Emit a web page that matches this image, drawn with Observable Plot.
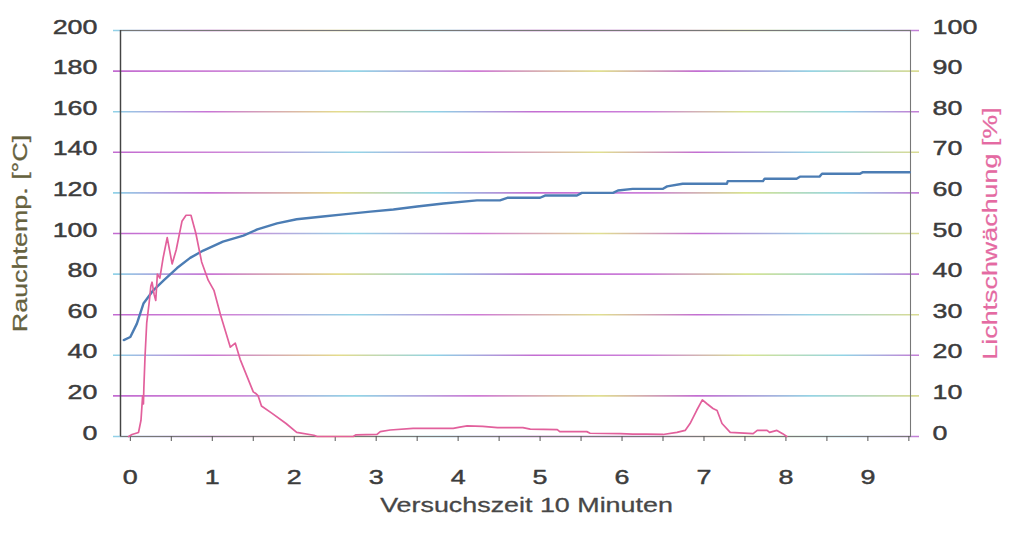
<!DOCTYPE html>
<html>
<head>
<meta charset="utf-8">
<script src="https://cdn.jsdelivr.net/npm/d3@7"></script>
<script src="https://cdn.jsdelivr.net/npm/@observablehq/plot@0.6"></script>
<style>
  html, body { margin: 0; padding: 0; background: #fff; }
</style>
</head>
<body>
<div id="chart"></div>
<script>
// Rauchtemp. [°C] (left axis)
const timeT = [-0.08, 0, 0.08, 0.16, 0.28, 0.41, 0.57, 0.73, 0.89, 1.13, 1.38, 1.55, 1.79, 2.03, 2.35, 2.6, 2.93, 3.21, 3.5, 3.82, 4.23, 4.51, 4.6, 5.0, 5.06, 5.45, 5.51, 5.89, 5.95, 6.13, 6.5, 6.55, 6.74, 7.28, 7.29, 7.72, 7.74, 8.13, 8.17, 8.41, 8.44, 8.9, 8.94, 9.51];
const temp  = [47.5, 49, 55.6, 65.5, 72, 77, 83, 88, 91.6, 96, 99, 102, 105, 107, 108.4, 109.4, 110.8, 111.8, 113.3, 114.8, 116.3, 116.3, 117.6, 117.6, 118.7, 118.7, 120, 120, 121.2, 122, 122, 123.2, 124.5, 124.5, 125.8, 125.8, 127, 127, 128, 128, 129.4, 129.4, 130.2, 130.2];

// Lichtschwächung [%] (right axis)
const timeL = [-0.02, 0.02, 0.10, 0.13, 0.15, 0.16, 0.165, 0.18, 0.20, 0.23, 0.25, 0.265, 0.29, 0.31, 0.33, 0.36, 0.40, 0.45, 0.51, 0.56, 0.63, 0.68, 0.74, 0.80, 0.87, 0.95, 1.02, 1.10, 1.22, 1.28, 1.34, 1.50, 1.53, 1.56, 1.60, 1.73, 1.90, 2.03, 2.24, 2.28, 2.72, 2.75, 3.01, 3.05, 3.17, 3.45, 3.94, 4.02, 4.11, 4.30, 4.48, 4.79, 4.88, 5.21, 5.24, 5.57, 5.61, 5.98, 6.13, 6.30, 6.50, 6.67, 6.77, 6.83, 6.91, 6.98, 7.04, 7.11, 7.16, 7.22, 7.32, 7.60, 7.65, 7.77, 7.80, 7.89, 7.96, 8.01];
const light = [0, 0.5, 1, 4, 10, 8, 12, 20, 28, 33, 37, 38, 35, 33.5, 40, 39, 44, 49, 42.5, 46, 53, 54.5, 54.5, 50, 43, 38.5, 36, 30, 22, 23, 19, 11, 10.6, 10, 7.5, 5.7, 3.2, 1, 0.3, 0, 0, 0.4, 0.5, 1.2, 1.6, 2, 2, 2.3, 2.6, 2.5, 2.2, 2.2, 1.8, 1.7, 1.2, 1.2, 0.8, 0.7, 0.6, 0.6, 0.5, 1, 1.5, 3.2, 6.4, 9, 8, 6.9, 6.4, 3.2, 1, 0.7, 1.5, 1.5, 1, 1.5, 0.7, 0];

const leftTicks = [0, 20, 40, 60, 80, 100, 120, 140, 160, 180, 200];
const rightTicks = [0, 10, 20, 30, 40, 50, 60, 70, 80, 90, 100];
const xLabels = [0, 1, 2, 3, 4, 5, 6, 7, 8, 9];
const xMinorTicks = [0, 0.5, 1, 1.5, 2, 2.5, 3, 3.5, 4, 4.5, 5, 5.5, 6, 6.5, 7, 7.5, 8, 8.5, 9, 9.5];

const xTitle = "Versuchszeit 10 Minuten";
const leftTitle = "Rauchtemp. [°C]";
const rightTitle = "Lichtschwächung [%]";

const tempData = timeT.map((t, i) => ({t, v: temp[i]}));
const lightData = timeL.map((t, i) => ({t, v: light[i]}));
const ratio = 200 / 100; // right axis 0–100 maps onto left axis 0–200

const gridA = leftTicks.filter((d, i) => i % 2 === 0);
const gridB = leftTicks.filter((d, i) => i % 2 === 1);

const tickFill = "#3c3c3c";
const fs = 21;
const bold = {stroke: tickFill, strokeWidth: 0.45};

const svg = Plot.plot({
  width: 1012,
  height: 537,
  marginLeft: 120,
  marginRight: 102,
  marginTop: 30,
  marginBottom: 101,
  x: {domain: [-0.12, 9.52]},
  y: {domain: [0, 200]},
  style: {fontFamily: "'Liberation Sans', Arial, sans-serif", fontSize: "21px", background: "#fff"},
  marks: [
    Plot.ruleY(gridA, {stroke: "url(#gridGradA)", strokeWidth: 1.6, insetLeft: -7, insetRight: -9}),
    Plot.ruleY(gridB, {stroke: "url(#gridGradB)", strokeWidth: 1.6, insetLeft: -7, insetRight: -9}),
    Plot.frame({stroke: "#777", strokeWidth: 1.1}),
    Plot.axisX({ticks: xMinorTicks, tickSize: 5, tickFormat: () => "", stroke: "#555", label: null}),
    Plot.axisY({ticks: [], label: null}),
    Plot.ruleX([-0.12], {stroke: "#444", strokeWidth: 1.4}),
    Plot.text(leftTicks, {y: d => d, text: d => String(d), frameAnchor: "left", dx: -23, dy: 3, textAnchor: "end", fontSize: fs, fill: tickFill, ...bold}),
    Plot.text(rightTicks, {y: d => d * ratio, text: d => String(d), frameAnchor: "right", dx: 22, dy: 3, textAnchor: "start", fontSize: fs, fill: tickFill, ...bold}),
    Plot.text(xLabels, {x: d => d, text: d => String(d), frameAnchor: "bottom", dy: 47, textAnchor: "middle", fontSize: fs, fill: tickFill, ...bold}),
    Plot.line(tempData, {x: "t", y: "v", stroke: "#4c7db4", strokeWidth: 2.4}),
    Plot.line(lightData, {x: "t", y: d => d.v * ratio, stroke: "#e2609c", strokeWidth: 1.7}),
    Plot.text([xTitle], {text: d => d, frameAnchor: "bottom", textAnchor: "middle", dx: 11, dy: 75, fontSize: fs, fill: "#474747", stroke: "#474747", strokeWidth: 0.3}),
    Plot.text([leftTitle], {text: d => d, frameAnchor: "left", textAnchor: "middle", dx: -94, rotate: -90, fontSize: fs, fill: "#66623f", stroke: "#66623f", strokeWidth: 0.3}),
    Plot.text([rightTitle], {text: d => d, frameAnchor: "right", textAnchor: "middle", dx: 86, rotate: -90, fontSize: fs, fill: "#e46aa2", stroke: "#e46aa2", strokeWidth: 0.2})
  ]
});

// gradients imitating the scanned rainbow-tinted grid lines
const ns = "http://www.w3.org/2000/svg";
const defs = document.createElementNS(ns, "defs");
function addGrad(id, stops) {
  const g = document.createElementNS(ns, "linearGradient");
  g.setAttribute("id", id);
  g.setAttribute("gradientUnits", "userSpaceOnUse");
  g.setAttribute("x1", "110"); g.setAttribute("x2", "925");
  g.setAttribute("y1", "0"); g.setAttribute("y2", "0");
  stops.forEach(([o, c]) => {
    const s = document.createElementNS(ns, "stop");
    s.setAttribute("offset", o);
    s.setAttribute("stop-color", c);
    g.appendChild(s);
  });
  defs.appendChild(g);
}
addGrad("gridGradA", [[0, "#8fd6e8"], [0.12, "#c974d6"], [0.28, "#e4dc8c"], [0.4, "#8fd3e6"], [0.52, "#c46ed2"], [0.66, "#cc80da"], [0.78, "#d8e48e"], [0.9, "#92d4e6"], [1, "#c876d4"]]);
addGrad("gridGradB", [[0, "#c26ad0"], [0.15, "#cf86d8"], [0.3, "#92d6e6"], [0.45, "#cf7ad6"], [0.6, "#e0e090"], [0.72, "#c46ed2"], [0.86, "#96d4e4"], [1, "#dedc8e"]]);
svg.insertBefore(defs, svg.firstChild);

document.getElementById("chart").appendChild(svg);

// horizontally stretched lettering as in the scanned original
svg.querySelectorAll("text").forEach(t => {
  if (!t.textContent) return;
  const x = +t.getAttribute("x") || 0, y = +t.getAttribute("y") || 0;
  t.removeAttribute("x"); t.removeAttribute("y");
  const tr = t.getAttribute("transform") || "";
  t.setAttribute("transform", `${tr} translate(${x},${y}) scale(1.28,1)`);
});
</script>
</body>
</html>
